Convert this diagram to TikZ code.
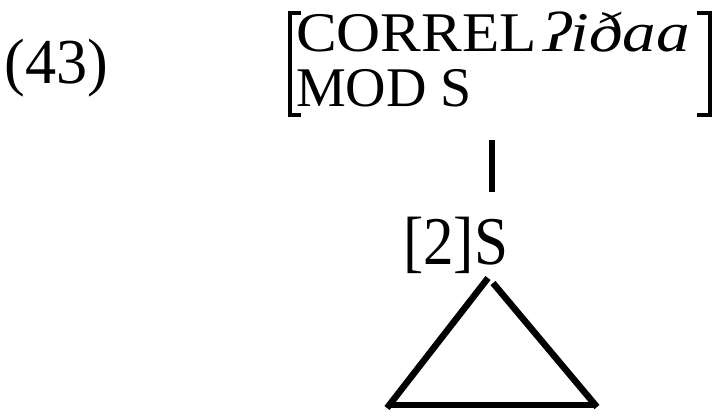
\documentclass[tikz,border=0pt]{standalone}
\usepackage{fontspec}
\setmainfont{Liberation Serif}
\newfontfamily\timesfont{Liberation Serif}
\newfontfamily\avmfont{Liberation Serif}
\begin{document}
\begin{tikzpicture}[x=1pt,y=-1pt,
  txt/.style={inner sep=0pt,outer sep=0pt,anchor=base west},
  big/.style={font=\timesfont\fontsize{61}{61}\selectfont},
  avm/.style={font=\avmfont\fontsize{56}{56}\selectfont},
  brk/.style={line width=4pt,line cap=butt},
  branch/.style={line width=6.5pt,line cap=butt}]
\useasboundingbox (0,0) rectangle (715,419);
% example number
\node[txt,big] (num) at (5,84) {\scalebox{1.02}[1.05]{(43)}};
% AVM
\node[txt,avm] (correl) at (296,52) {\scalebox{1.09}[1]{CORREL}};
\node[txt,avm] (val) at (543,52) {\scalebox{1.2}[1]{\itshape ʔiðaa}};
\node[txt,avm] (mod) at (296,107) {MOD S};
% brackets
\draw[brk] (301,13) -- (290,13) -- (290,115) -- (301,115);
\draw[brk] (697,13) -- (709.5,13) -- (709.5,115) -- (697,115);
% mother node
\node[txt,big] (s) at (403,265) {\scalebox{1}[1.12]{[2]S}};
\coordinate (vt) at (492,140);
\coordinate (vb) at (492,192);
\draw[branch] (vt) -- (vb);
% triangle
\coordinate (al) at (488,278);
\coordinate (ar) at (493,283);
\coordinate (bl) at (387,408);
\coordinate (br) at (597,407);
\coordinate (b1) at (387,405);
\coordinate (b2) at (593,405);
\draw[branch] (al) -- (bl);
\draw[branch] (ar) -- (br);
\draw[branch] (b1) -- (b2);
\end{tikzpicture}
\end{document}
